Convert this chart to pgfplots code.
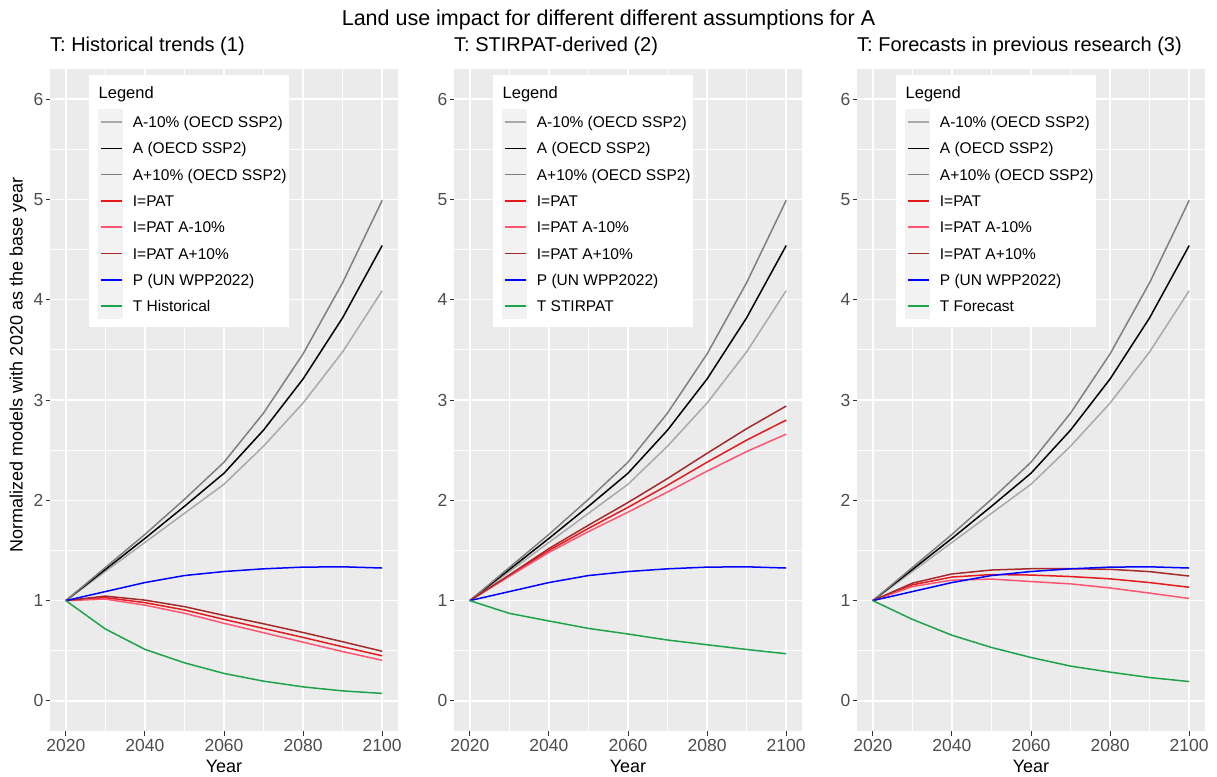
\documentclass[border=0pt]{standalone}
\usepackage{fontspec}
\setmainfont{Liberation Sans}
\usepackage{pgfplots}
\pgfplotsset{compat=1.18}
\usepackage{pgfplotstable}

\definecolor{bgc}{HTML}{EBEBEB}
\definecolor{keyc}{HTML}{F2F2F2}
\definecolor{labc}{HTML}{4D4D4D}
\definecolor{tickc}{HTML}{333333}
\definecolor{colAm}{HTML}{A9A9A9}
\definecolor{colAp}{HTML}{7F7F7F}
\definecolor{colIpat}{HTML}{E41A1C}
\definecolor{colIpatm}{HTML}{FF5472}
\definecolor{colIpatp}{HTML}{A52A2A}
\definecolor{colP}{HTML}{0000FF}
\definecolor{colT}{HTML}{1DA44B}

\pgfplotstableread{
year am a ap p
2020 1 1 1 1
2030 1.29 1.31 1.33 1.09
2040 1.58 1.62 1.66 1.18
2050 1.87 1.94 2.01 1.25
2060 2.16 2.27 2.38 1.29
2070 2.54 2.70 2.87 1.317
2080 2.97 3.21 3.46 1.334
2090 3.48 3.82 4.17 1.337
2100 4.09 4.54 4.99 1.325
}\common

\pgfplotstableread{
year t ipat ipatm ipatp
2020 1 1 1 1
2030 0.717 1.03 1.015 1.045
2040 0.514 0.98 0.955 1.005
2050 0.38 0.907 0.874 0.94
2060 0.274 0.813 0.774 0.852
2070 0.197 0.723 0.680 0.769
2080 0.14 0.633 0.586 0.682
2090 0.10 0.54 0.492 0.59
2100 0.075 0.45 0.405 0.495
}\panelA

\pgfplotstableread{
year t ipat ipatm ipatp
2020 1 1 1 1
2030 0.873 1.25 1.242 1.256
2040 0.797 1.5 1.481 1.519
2050 0.723 1.72 1.688 1.752
2060 0.667 1.93 1.882 1.978
2070 0.607 2.15 2.083 2.217
2080 0.56 2.38 2.291 2.469
2090 0.513 2.60 2.486 2.714
2100 0.47 2.80 2.66 2.94
}\panelB

\pgfplotstableread{
year t ipat ipatm ipatp
2020 1 1 1 1
2030 0.813 1.157 1.14 1.174
2040 0.655 1.235 1.204 1.266
2050 0.533 1.26 1.215 1.305
2060 0.433 1.255 1.19 1.318
2070 0.347 1.24 1.167 1.318
2080 0.287 1.217 1.126 1.312
2090 0.233 1.18 1.075 1.289
2100 0.193 1.133 1.021 1.245
}\panelC

\pgfplotsset{
  panel/.style={
    scale only axis, width=348pt, height=662pt,
    xmin=2016, xmax=2104, ymin=-0.3, ymax=6.3,
    xtick={2020,2040,2060,2080,2100}, ytick={0,1,2,3,4,5,6},
    minor xtick={2030,2050,2070,2090},
    minor ytick={0.5,1.5,2.5,3.5,4.5,5.5},
    grid=both,
    major grid style={white, line width=1.5pt},
    minor grid style={white, line width=0.75pt},
    axis background/.style={fill=bgc},
    axis x line*=bottom, axis y line*=left,
    axis line style={draw=none},
    tick align=outside, major tick length=4.5pt, minor tick length=0pt,
    tick style={color=tickc, line width=1pt},
    ticklabel style={font=\fontsize{17.5}{20}\selectfont, text=labc},
    /pgf/number format/assume math mode=true,
    /pgf/number format/1000 sep={},
    xticklabel style={inner sep=0pt, anchor=north, yshift=-4pt},
    yticklabel style={inner sep=0pt, anchor=east, xshift=-2pt},
    xlabel={Year},
    xlabel style={font=\fontsize{18}{20}\selectfont, at={(axis description cs:0.5,0)}, anchor=base, yshift=-41.5pt, inner sep=0pt},
    title style={font=\fontsize{20}{22}\selectfont, at={(axis description cs:0,1)}, anchor=base west, yshift=11.5pt, inner sep=0pt},
    every axis plot/.append style={line width=1.5pt},
  }
}

% legend entry: #1 row index, #2 colour, #3 text
\newcommand{\legkey}[3]{%
  \draw[#2, line width=1.5pt] (11.7pt,{-122pt-#1*26.3pt}) -- (32.6pt,{-122pt-#1*26.3pt});
  \node[anchor=base west, inner sep=0pt, font=\fontsize{15.5}{18}\selectfont] at (43.7pt,{-127.55pt-#1*26.3pt}) {#3};}

% legend box: #1 left edge (pt), #2 last label
\newcommand{\drawlegend}[2]{%
  \begin{scope}[shift={(#1pt,0pt)}]
  \fill[white] (0pt,-75pt) rectangle (200pt,-327pt);
  \node[anchor=base west, inner sep=0pt, font=\fontsize{16.5}{18}\selectfont] at (9.5pt,-98.5pt) {Legend};
  \fill[keyc] (9pt,-108.85pt) rectangle (34pt,-319.25pt);
  \legkey{0}{colAm}{A-10\% (OECD SSP2)}
  \legkey{1}{black}{A (OECD SSP2)}
  \legkey{2}{colAp}{A+10\% (OECD SSP2)}
  \legkey{3}{colIpat}{I=PAT}
  \legkey{4}{colIpatm}{I=PAT A-10\%}
  \legkey{5}{colIpatp}{I=PAT A+10\%}
  \legkey{6}{colP}{P (UN WPP2022)}
  \legkey{7}{colT}{#2}
  \end{scope}}

\begin{document}
\begin{tikzpicture}
\path[use as bounding box] (0pt,0pt) rectangle (1217pt,-776pt);
\node[anchor=base, font=\fontsize{21.5}{24}\selectfont] at (608.5pt,-25.7pt) {Land use impact for different different assumptions for A};

% Panel 1
\begin{axis}[panel, at={(50pt,-731pt)}, anchor=south west,
  title={T: Historical trends (1)},
  ylabel={Normalized models with 2020 as the base year},
  ylabel style={font=\fontsize{18}{20}\selectfont, at={(axis description cs:-0.092,0.553)}, anchor=center, inner sep=0pt}]
\addplot[colAm] table[x=year,y=am] {\common};
\addplot[black] table[x=year,y=a] {\common};
\addplot[colAp] table[x=year,y=ap] {\common};
\addplot[colIpat] table[x=year,y=ipat] {\panelA};
\addplot[colIpatm] table[x=year,y=ipatm] {\panelA};
\addplot[colIpatp] table[x=year,y=ipatp] {\panelA};
\addplot[colP] table[x=year,y=p] {\common};
\addplot[colT] table[x=year,y=t] {\panelA};
\end{axis}

% Panel 2
\begin{axis}[panel, at={(454pt,-731pt)}, anchor=south west,
  title={T: STIRPAT-derived (2)}]
\addplot[colAm] table[x=year,y=am] {\common};
\addplot[black] table[x=year,y=a] {\common};
\addplot[colAp] table[x=year,y=ap] {\common};
\addplot[colIpat] table[x=year,y=ipat] {\panelB};
\addplot[colIpatm] table[x=year,y=ipatm] {\panelB};
\addplot[colIpatp] table[x=year,y=ipatp] {\panelB};
\addplot[colP] table[x=year,y=p] {\common};
\addplot[colT] table[x=year,y=t] {\panelB};
\end{axis}

% Panel 3
\begin{axis}[panel, at={(857pt,-731pt)}, anchor=south west,
  title={T: Forecasts in previous research (3)}]
\addplot[colAm] table[x=year,y=am] {\common};
\addplot[black] table[x=year,y=a] {\common};
\addplot[colAp] table[x=year,y=ap] {\common};
\addplot[colIpat] table[x=year,y=ipat] {\panelC};
\addplot[colIpatm] table[x=year,y=ipatm] {\panelC};
\addplot[colIpatp] table[x=year,y=ipatp] {\panelC};
\addplot[colP] table[x=year,y=p] {\common};
\addplot[colT] table[x=year,y=t] {\panelC};
\end{axis}

\drawlegend{89}{T Historical}
\drawlegend{493}{T STIRPAT}
\drawlegend{896}{T Forecast}
\end{tikzpicture}
\end{document}
